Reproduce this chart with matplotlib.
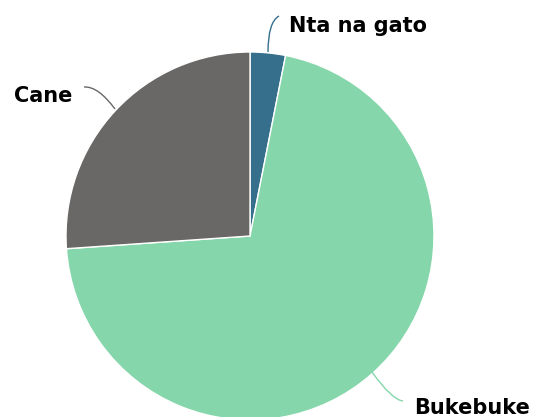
import matplotlib
matplotlib.use("Agg")
import matplotlib.pyplot as plt
from matplotlib.path import Path
from matplotlib.patches import PathPatch

labels = ["Nta na gato", "Bukebuke", "Cane"]
values = [3.1, 70.8, 26.1]
colors = ["#366f8c", "#85d6ab", "#6a6866"]

W, H = 537, 417
fig = plt.figure(figsize=(W / 100, H / 100), dpi=100)
ax = fig.add_axes([0, 0, 1, 1])

cx, cy, r = 250, H - 236, 184
ax.pie(values, colors=colors, startangle=90, counterclock=False,
       center=(cx, cy), radius=r, frame=True,
       wedgeprops=dict(edgecolor="white", linewidth=1))
ax.set_xlim(0, W)
ax.set_ylim(0, H)
ax.set_aspect("equal")
ax.axis("off")

def curve(p0, p1, p2, color):
    path = Path([p0, p1, p2], [Path.MOVETO, Path.CURVE3, Path.CURVE3])
    ax.add_patch(PathPatch(path, fill=False, edgecolor=color, lw=1))

def fy(y):
    return H - y

curve((268, fy(52)), (268, fy(22)), (279, fy(16)), colors[0])
curve((115, fy(109)), (98, fy(86)), (84, fy(87)), colors[2])
curve((372, fy(372)), (392, fy(400)), (403, fy(401)), colors[1])

font = dict(family=["DejaVu Sans"], fontweight="bold", fontsize=15, color="black")
ax.text(289, fy(32), labels[0], ha="left", va="baseline", **font)
ax.text(72, fy(102), labels[2], ha="right", va="baseline", **font)
ax.text(414, fy(414), labels[1], ha="left", va="baseline", **font)

fig.savefig("out.png", dpi=100)
